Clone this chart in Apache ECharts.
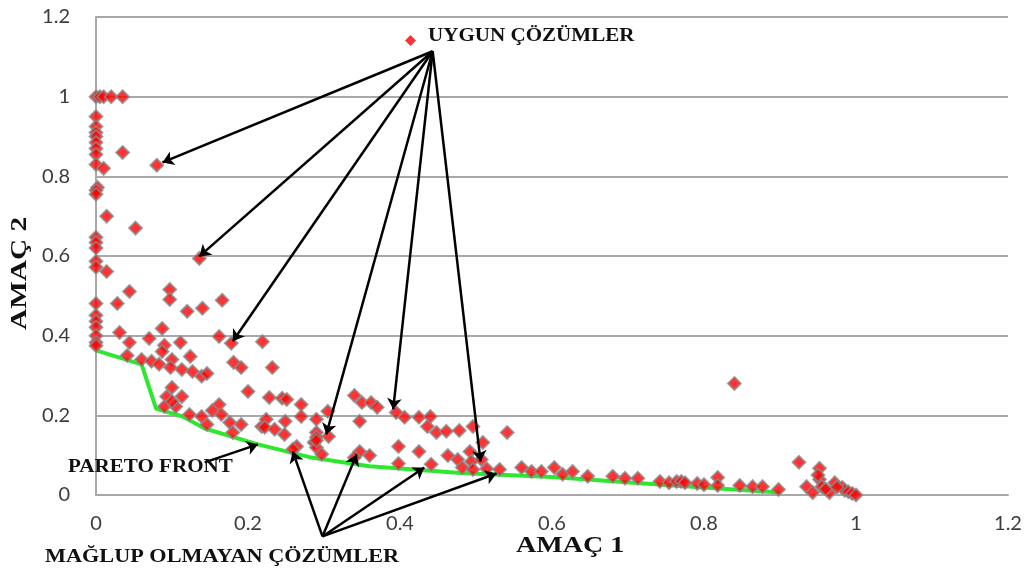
<!DOCTYPE html>
<html>
<head>
<meta charset="utf-8">
<script src="https://cdn.jsdelivr.net/npm/echarts@6/dist/echarts.min.js"></script>
<style>
  html, body { margin: 0; padding: 0; background: #fff; }
  #chart { width: 1025px; height: 570px; }
</style>
</head>
<body>
<div id="chart"></div>
<script>
// all solutions: [AMAÇ 1, AMAÇ 2]
const solutions = [
  [0, 1], [0.005, 1], [0.01, 1], [0.02, 1], [0.035, 1],
  [0, 0.95], [0, 0.925], [0, 0.91], [0, 0.9], [0, 0.885], [0, 0.87], [0, 0.855], [0, 0.83],
  [0.035, 0.86], [0.01, 0.82], [0.08, 0.828],
  [0.002, 0.772], [0, 0.765], [0, 0.755],
  [0.014, 0.7], [0.052, 0.67],
  [0, 0.647], [0, 0.634], [0, 0.62],
  [0.136, 0.594],
  [0, 0.587], [0, 0.572], [0.014, 0.561],
  [0.044, 0.511], [0.097, 0.516], [0.097, 0.491], [0.166, 0.489],
  [0, 0.481], [0.028, 0.481], [0.12, 0.461], [0.14, 0.469],
  [0, 0.451], [0, 0.436], [0, 0.421], [0, 0.4], [0, 0.383], [0, 0.375],
  [0.031, 0.408], [0.087, 0.418], [0.162, 0.398], [0.178, 0.381],
  [0.044, 0.383], [0.07, 0.393], [0.111, 0.383], [0.09, 0.376], [0.087, 0.36],
  [0.041, 0.35], [0.124, 0.348], [0.06, 0.34], [0.073, 0.336], [0.1, 0.34], [0.083, 0.328],
  [0.098, 0.32], [0.113, 0.315], [0.127, 0.31], [0.139, 0.298], [0.146, 0.305],
  [0.181, 0.333], [0.191, 0.32], [0.2, 0.26], [0.1, 0.27], [0.093, 0.247], [0.113, 0.247],
  [0.09, 0.222], [0.105, 0.222], [0.1, 0.235], [0.162, 0.227], [0.153, 0.212], [0.123, 0.202],
  [0.139, 0.197], [0.165, 0.202], [0.176, 0.182], [0.191, 0.177], [0.146, 0.177], [0.218, 0.172],
  [0.219, 0.385], [0.232, 0.32], [0.18, 0.157],
  [0.228, 0.245], [0.245, 0.243], [0.251, 0.24], [0.27, 0.227], [0.305, 0.21], [0.27, 0.197],
  [0.29, 0.19], [0.224, 0.19], [0.249, 0.185], [0.222, 0.17], [0.235, 0.165], [0.248, 0.152],
  [0.29, 0.157], [0.306, 0.147], [0.287, 0.132], [0.264, 0.122], [0.29, 0.119], [0.297, 0.102],
  [0.259, 0.115], [0.29, 0.145], [0.29, 0.137],
  [0.34, 0.25], [0.35, 0.232], [0.362, 0.232], [0.37, 0.22], [0.347, 0.185], [0.395, 0.207],
  [0.406, 0.195], [0.425, 0.195], [0.44, 0.197], [0.436, 0.172], [0.448, 0.157], [0.461, 0.16],
  [0.347, 0.109], [0.36, 0.099], [0.34, 0.094], [0.398, 0.122], [0.425, 0.109], [0.398, 0.079],
  [0.441, 0.077], [0.463, 0.099],
  [0.478, 0.162], [0.496, 0.172], [0.541, 0.157], [0.509, 0.132], [0.492, 0.109], [0.476, 0.089],
  [0.494, 0.084], [0.507, 0.089], [0.482, 0.069], [0.496, 0.064], [0.514, 0.066], [0.531, 0.064],
  [0.56, 0.069], [0.573, 0.059], [0.586, 0.059], [0.603, 0.069], [0.614, 0.052], [0.627, 0.059],
  [0.647, 0.047], [0.68, 0.047], [0.696, 0.042], [0.713, 0.042],
  [0.742, 0.034], [0.754, 0.031], [0.764, 0.034], [0.77, 0.034], [0.775, 0.031], [0.791, 0.029],
  [0.8, 0.026], [0.818, 0.044], [0.818, 0.024], [0.847, 0.024], [0.864, 0.021], [0.877, 0.021],
  [0.898, 0.014],
  [0.84, 0.28],
  [0.925, 0.082], [0.952, 0.067], [0.952, 0.039], [0.935, 0.021], [0.943, 0.006], [0.965, 0.006],
  [0.972, 0.031], [0.955, 0.021], [0.982, 0.019], [0.95, 0.05], [0.96, 0.015], [0.985, 0.012],
  [0.99, 0.008], [0.995, 0.004], [1, 0], [0.975, 0.02]
];

// green pareto front
const paretoFront = [
  [0, 0.363], [0.06, 0.328], [0.079, 0.217], [0.114, 0.197], [0.143, 0.167],
  [0.213, 0.127], [0.281, 0.095], [0.36, 0.072], [0.48, 0.055], [0.6, 0.045],
  [0.75, 0.025], [0.9, 0.006]
];

// annotation arrows: [from, to]
const uygunArrows = [
  [[0.443, 1.114], [0.0875, 0.835]],
  [[0.443, 1.114], [0.136, 0.599]],
  [[0.443, 1.114], [0.18, 0.386]],
  [[0.443, 1.114], [0.303, 0.152]],
  [[0.443, 1.114], [0.391, 0.215]],
  [[0.443, 1.114], [0.506, 0.084]]
];
const maglupArrows = [
  [[0.298, -0.104], [0.259, 0.109]],
  [[0.298, -0.104], [0.343, 0.102]],
  [[0.298, -0.104], [0.432, 0.069]],
  [[0.298, -0.104], [0.527, 0.054]]
];
const paretoArrow = [
  [[0.143, 0.082], [0.213, 0.127]]
];

const xTicks = [0, 0.2, 0.4, 0.6, 0.8, 1, 1.2];
const yTicks = [0, 0.2, 0.4, 0.6, 0.8, 1, 1.2];

const chart = echarts.init(document.getElementById('chart'));

const serif = '"Liberation Serif", "DejaVu Serif", serif';
const labelFont = { color: '#3c3c3c', fontSize: 20, fontFamily: 'Lato, "Open Sans", sans-serif' };
// the source picture is stretched sideways, so serif texts get a wider scale
const stretch = 1.17;

const arrowData = uygunArrows.concat(maglupArrows, paretoArrow).map(a => ({ coords: a }));

const option = {
  animation: false,
  backgroundColor: '#fff',
  grid: { left: 96, right: 17, top: 17, bottom: 75 },
  legend: {
    data: ['UYGUN ÇÖZÜMLER'],
    left: 400,
    top: 30,
    icon: 'diamond',
    itemWidth: 11,
    itemHeight: 11,
    itemStyle: { borderWidth: 0 },
    formatter: () => '',
    textStyle: { fontSize: 1 }
  },
  xAxis: {
    type: 'value',
    min: xTicks[0],
    max: xTicks[xTicks.length - 1],
    interval: 0.2,
    axisLine: { show: true, lineStyle: { color: '#a8a8a8', width: 2 } },
    axisTick: { show: false },
    splitLine: { show: false },
    axisLabel: Object.assign({ margin: 19 }, labelFont)
  },
  yAxis: {
    type: 'value',
    min: yTicks[0],
    max: yTicks[yTicks.length - 1],
    interval: 0.2,
    axisLine: { show: true, lineStyle: { color: '#a8a8a8', width: 2 } },
    axisTick: { show: false },
    splitLine: { show: true, lineStyle: { color: '#a8a8a8', width: 2 } },
    axisLabel: Object.assign({ margin: 26 }, labelFont)
  },
  series: [
    {
      name: 'PARETO FRONT',
      type: 'line',
      data: paretoFront,
      symbol: 'none',
      z: 1,
      lineStyle: { color: '#2ee82e', width: 4 }
    },
    {
      name: 'UYGUN ÇÖZÜMLER',
      type: 'scatter',
      data: solutions,
      symbol: 'diamond',
      symbolSize: 13,
      z: 2,
      itemStyle: { color: '#ff0000', borderColor: '#8a8a8a', borderWidth: 1.8 }
    },
    {
      name: 'arrows',
      type: 'lines',
      coordinateSystem: 'cartesian2d',
      clip: false,
      z: 3,
      symbol: ['none', 'arrow'],
      symbolSize: 11,
      lineStyle: { color: '#000', width: 2.5, opacity: 1, curveness: 0 },
      data: arrowData
    }
  ],
  graphic: [
    {
      type: 'text', x: 428, y: 27, scaleX: stretch, z: 10,
      style: { text: 'UYGUN ÇÖZÜMLER', font: 'bold 18px ' + serif, fill: '#111' }
    },
    {
      type: 'text', x: 68, y: 458, scaleX: stretch, z: 10,
      style: { text: 'PARETO FRONT', font: 'bold 18px ' + serif, fill: '#111' }
    },
    {
      type: 'text', x: 45, y: 548, scaleX: stretch, z: 10,
      style: { text: 'MAĞLUP OLMAYAN ÇÖZÜMLER', font: 'bold 19px ' + serif, fill: '#111' }
    },
    {
      type: 'text', x: 516, y: 534, scaleX: stretch, z: 10,
      style: { text: 'AMAÇ 1', font: 'bold 24px ' + serif, fill: '#111' }
    },
    {
      type: 'text', x: 8, y: 330, rotation: Math.PI / 2, scaleX: 1.22, z: 10,
      style: { text: 'AMAÇ 2', font: 'bold 24px ' + serif, fill: '#111' }
    }
  ]
};

chart.setOption(option);
</script>
</body>
</html>
